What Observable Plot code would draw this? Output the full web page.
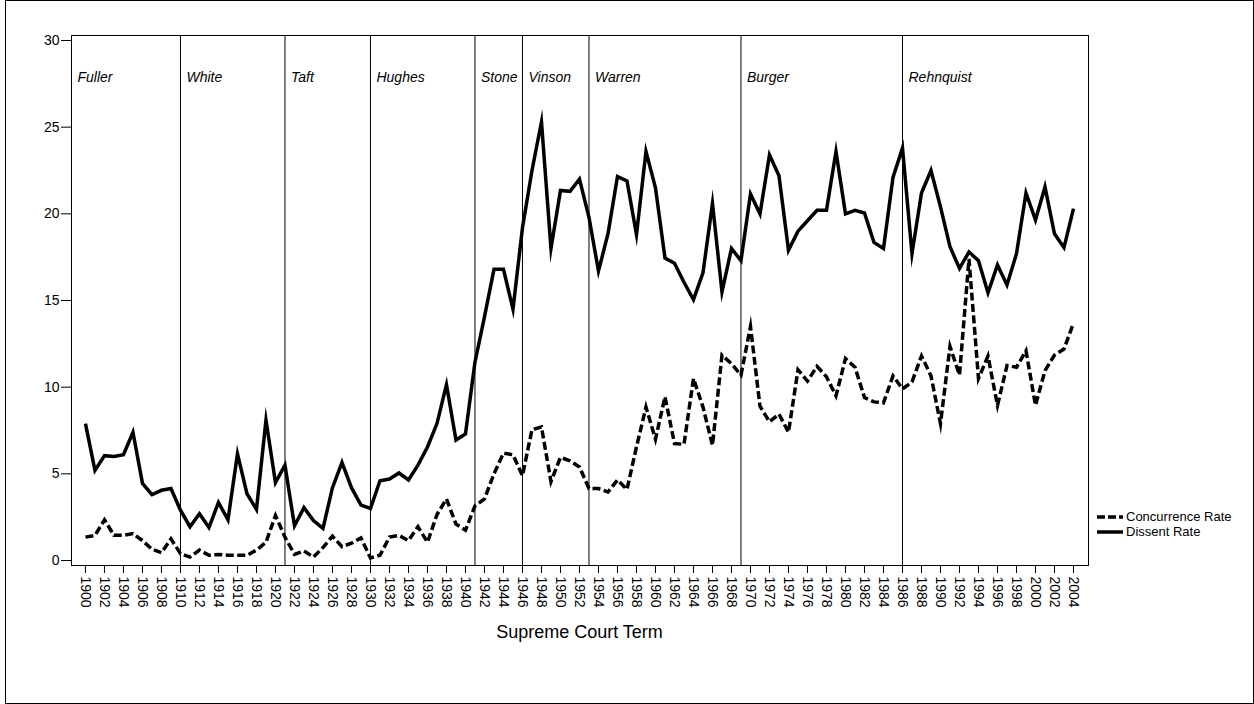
<!DOCTYPE html>
<html>
<head>
<meta charset="utf-8">
<script src="https://cdn.jsdelivr.net/npm/d3@7"></script>
<script src="https://cdn.jsdelivr.net/npm/@observablehq/plot@0.6"></script>
<style>
  html, body { margin: 0; padding: 0; background: #fff; }
  #wrap { position: relative; width: 1254px; height: 704px; font-family: "Liberation Sans", Arial, sans-serif; color: #000; }
  #border { position: absolute; left: 5px; top: 0; width: 1247px; height: 702px; border: 1px solid #000; pointer-events: none; }
  #xtitle { position: absolute; left: 71px; width: 1017px; top: 622px; text-align: center; font-size: 18px; }
  #legend { position: absolute; left: 1097px; top: 509px; font-size: 13px; line-height: 15px; }
  #legend div { display: flex; align-items: center; white-space: nowrap; }
  #legend svg { margin-right: 3px; }
</style>
</head>
<body>
<div id="wrap">
  <div id="chart"></div>
  <div id="xtitle">Supreme Court Term</div>
  <div id="legend"></div>
  <div id="border"></div>
</div>
<script>
// Supreme Court terms, 1900–2004
const terms = d3.range(1900, 2005);

// Dissent rate per term
const dissentRate = [
  7.9, 5.2, 6.05, 6.0, 6.1, 7.4, 4.45, 3.8, 4.05, 4.15,
  2.9, 1.95, 2.7, 1.9, 3.35, 2.35, 6.15, 3.85, 2.95, 8.1,
  4.5, 5.5, 2.0, 3.05, 2.3, 1.85, 4.2, 5.65, 4.2, 3.2,
  3.0, 4.6, 4.7, 5.05, 4.65, 5.5, 6.55, 7.9, 10.15, 6.95,
  7.3, 11.45, 14.05, 16.8, 16.8, 14.5, 19.2, 22.5, 25.3, 18.0,
  21.35, 21.3, 22.0, 19.8, 16.7, 18.85, 22.15, 21.9, 18.8, 23.6,
  21.5, 17.45, 17.15, 16.05, 15.05, 16.6, 20.6, 15.5, 18.0, 17.3,
  21.15, 20.0, 23.4, 22.2, 17.9, 19.0, 19.6, 20.2, 20.2, 23.6,
  20.0, 20.2, 20.05, 18.35, 18.0, 22.1, 23.8, 17.7, 21.2, 22.5,
  20.4, 18.1, 16.85, 17.8, 17.3, 15.45, 17.05, 15.9, 17.7, 21.2,
  19.65, 21.55, 18.85, 18.05, 20.3
];

// Concurrence rate per term
const concurrenceRate = [
  1.35, 1.45, 2.35, 1.45, 1.45, 1.55, 1.15, 0.65, 0.45, 1.25,
  0.4, 0.2, 0.6, 0.3, 0.35, 0.3, 0.3, 0.3, 0.6, 1.05,
  2.6, 1.35, 0.35, 0.55, 0.2, 0.75, 1.4, 0.8, 1.0, 1.3,
  0.15, 0.3, 1.35, 1.45, 1.15, 1.95, 1.05, 2.65, 3.55, 2.1,
  1.75, 3.15, 3.55, 5.0, 6.2, 6.1, 4.9, 7.55, 7.7, 4.55,
  5.95, 5.75, 5.4, 4.15, 4.15, 3.95, 4.65, 4.1, 6.55, 8.85,
  7.0, 9.45, 6.75, 6.7, 10.5, 8.85, 6.65, 11.85, 11.35, 10.7,
  13.5, 8.9, 8.0, 8.45, 7.4, 11.0, 10.35, 11.2, 10.6, 9.5,
  11.65, 11.15, 9.4, 9.15, 9.1, 10.65, 9.9, 10.3, 11.8, 10.65,
  7.9, 12.35, 10.7, 17.4, 10.5, 11.8, 8.95, 11.25, 11.15, 12.1,
  8.95, 10.95, 11.85, 12.2, 13.7
];

// Chief Justices and the term each Court began
const chiefJustices = ["Fuller", "White", "Taft", "Hughes", "Stone", "Vinson", "Warren", "Burger", "Rehnquist"];
const courtStarts = [1888, 1910, 1921, 1930, 1941, 1946, 1953, 1969, 1986];

// Axis ticks
const yTicks = [0, 5, 10, 15, 20, 25, 30];
const xTicks = d3.range(1900, 2005, 2);

const rows = terms.map((term, i) => ({term, dissent: dissentRate[i], concurrence: concurrenceRate[i]}));

const xDomain = [1898.53, 2005.58];
const courts = chiefJustices.map((name, i) => ({name, start: Math.max(courtStarts[i], xDomain[0])}));
const dividers = courtStarts.filter(s => s > xDomain[0]);

const font = '"Liberation Sans", Arial, sans-serif';

const chart = Plot.plot({
  width: 1254,
  height: 704,
  marginLeft: 71,
  marginRight: 166,
  marginTop: 35,
  marginBottom: 139,
  style: {fontFamily: font, fontSize: "14px", color: "#000", background: "transparent"},
  x: {domain: xDomain},
  y: {domain: [-0.288, 30.288]},
  marks: [
    Plot.ruleX(dividers, {stroke: "#000", strokeWidth: 1}),
    Plot.text(courts, {
      x: "start", text: "name", frameAnchor: "top", dx: 6, dy: 37,
      textAnchor: "start", lineAnchor: "top", fontStyle: "italic", fontSize: 14, fill: "#000"
    }),
    Plot.lineY(rows, {
      x: "term", y: "concurrence", stroke: "#000", strokeWidth: 3.5,
      strokeDasharray: "8,3.5", strokeLinejoin: "miter", strokeLinecap: "butt", strokeMiterlimit: 10
    }),
    Plot.lineY(rows, {
      x: "term", y: "dissent", stroke: "#000", strokeWidth: 3.5,
      strokeLinejoin: "miter", strokeLinecap: "butt", strokeMiterlimit: 10
    }),
    Plot.frame({stroke: "#000", strokeWidth: 1}),
    Plot.axisY({ticks: yTicks, tickSize: 10, tickPadding: 2, fontSize: 14, label: null, stroke: "#000"}),
    Plot.axisX({
      ticks: xTicks, tickFormat: d => String(d), tickRotate: 90, tickSize: 8,
      tickPadding: 3, fontSize: 14, label: null, stroke: "#000"
    })
  ]
});
document.getElementById("chart").appendChild(chart);

// Legend: line-style swatches for the two series
const legendItems = [
  {label: "Concurrence Rate", dash: "8,3"},
  {label: "Dissent Rate", dash: null}
];
const legend = document.getElementById("legend");
for (const item of legendItems) {
  const row = document.createElement("div");
  row.innerHTML =
    `<svg width="26" height="8"><line x1="0" x2="26" y1="4" y2="4" stroke="#000" stroke-width="3.5"` +
    (item.dash ? ` stroke-dasharray="${item.dash}"` : "") + `/></svg><span>${item.label}</span>`;
  legend.appendChild(row);
}
</script>
</body>
</html>
